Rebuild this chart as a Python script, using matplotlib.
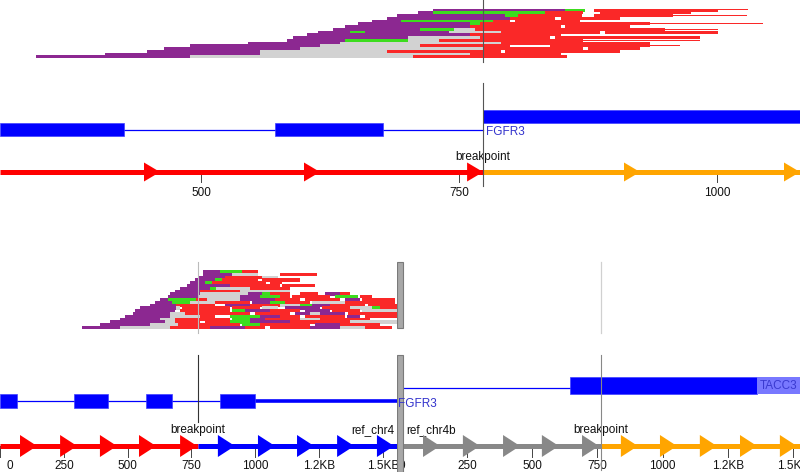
import matplotlib.pyplot as plt
from matplotlib.patches import Polygon, Rectangle

plt.rcParams["font.family"] = ["Liberation Sans", "DejaVu Sans"]

W, H = 800, 472

READ_COLORS = {"P": "#8c2891", "G": "#3cdc1e", "R": "#fa2828", "S": "#d2d2d2", "r": "#fa2828"}
BLUE = "#0000ff"
LABEL_BLUE = "#3333cc"

# ---------------- top panel (single reference) ----------------
top_xlim = (305, 1080)
top_breakpoint = 773
top_reads = [
    [(724, 852, "P"), (852, 872, "G"), (880, 1001, "R"), (1001, 1030, "r")],
    [(710, 724, "P"), (724, 833, "G"), (833, 870, "R"), (886, 974, "R")],
    [(690, 794, "P"), (794, 807, "G"), (807, 869, "R"), (880, 957, "R"), (957, 1029, "r")],
    [(680, 799, "P"), (799, 843, "R"), (848, 906, "R")],
    [(665, 693, "P"), (693, 783, "G"), (783, 799, "R"), (804, 867, "R")],
    [(652, 760, "P"), (760, 770, "G"), (770, 935, "R"), (935, 1044, "r")],
    [(639, 760, "P"), (760, 848, "R"), (852, 915, "R")],
    [(628, 712, "P"), (712, 745, "G"), (745, 765, "S"), (765, 949, "R"), (949, 1001, "r")],
    [(613, 644, "P"), (644, 659, "G"), (659, 740, "P"), (740, 790, "S"), (790, 886, "R"), (891, 1001, "R")],
    [(602, 760, "P"), (760, 848, "R")],
    [(589, 700, "P"), (700, 770, "S"), (770, 838, "R"), (843, 983, "R")],
    [(583, 639, "P"), (639, 700, "G"), (700, 730, "S"), (730, 870, "R"), (870, 983, "r")],
    [(545, 634, "P"), (634, 790, "S"), (790, 935, "R")],
    [(489, 615, "P"), (615, 712, "S"), (712, 799, "R"), (838, 935, "R"), (935, 964, "r")],
    [(464, 596, "P"), (596, 773, "S"), (773, 870, "R"), (875, 925, "R")],
    [(447, 557, "P"), (557, 680, "S"), (680, 790, "R"), (794, 906, "R")],
    [(407, 557, "P"), (557, 760, "S"), (760, 848, "R")],
    [(340, 489, "P"), (489, 705, "S"), (705, 854, "R")],
]
top_exons = [(305, 425), (571, 676)]
top_intron = (425, 773)
top_fused_exon = (773, 1080)
top_red_tips = [460, 615, 773]
top_orange_tips = [925, 1080]
top_ticks = [500, 750, 1000]
top_tick_labels = ["500", "750", "1000"]

# ---------------- bottom panel (fusion reference) ----------------
left_xlim = (0, 1555)
right_xlim = (-19, 1527)
left_breakpoint = 776
right_breakpoint = 763
left_reads = [
    [(795, 862, "P"), (862, 948, "G"), (948, 1011, "R")],
    [(795, 909, "P"), (909, 1011, "S"), (1097, 1242, "R")],
    [(776, 881, "P"), (881, 1026, "R"), (1026, 1089, "S")],
    [(764, 842, "P"), (842, 870, "G"), (870, 1011, "R"), (1026, 1175, "R")],
    [(744, 803, "P"), (803, 830, "G"), (830, 1042, "R"), (1058, 1105, "R")],
    [(732, 901, "P"), (901, 1097, "R"), (1105, 1234, "R")],
    [(705, 823, "P"), (823, 846, "G"), (846, 979, "S"), (979, 1136, "R")],
    [(685, 783, "P"), (783, 940, "R"), (940, 1136, "S")],
    [(666, 783, "P"), (783, 971, "S"), (971, 1026, "P"), (1026, 1058, "G"), (1058, 1136, "R"),
     (1175, 1246, "R"), (1273, 1332, "P"), (1332, 1371, "R")],
    [(658, 776, "P"), (776, 940, "S"), (940, 1018, "P"), (1018, 1097, "G"), (1097, 1136, "R"),
     (1144, 1293, "R"), (1312, 1402, "G"), (1410, 1457, "R")],
    [(627, 658, "P"), (658, 768, "G"), (768, 811, "R"), (811, 940, "S"), (940, 1077, "P"),
     (1077, 1175, "R"), (1195, 1332, "R"), (1351, 1410, "P"), (1418, 1547, "R")],
    [(607, 674, "P"), (674, 744, "G"), (744, 842, "S"), (842, 979, "R"), (987, 1058, "P"),
     (1058, 1116, "G"), (1116, 1214, "R"), (1222, 1351, "S"), (1351, 1547, "R")],
    [(588, 689, "P"), (689, 842, "R"), (881, 979, "P"), (979, 1097, "R"), (1097, 1175, "S"),
     (1175, 1222, "G"), (1222, 1293, "P"), (1293, 1430, "R"), (1441, 1555, "R")],
    [(548, 689, "P"), (689, 705, "S"), (713, 901, "R"), (909, 1018, "R"), (1026, 1089, "S"),
     (1116, 1253, "P"), (1261, 1371, "R"), (1371, 1457, "S"), (1457, 1488, "G"), (1488, 1555, "R")],
    [(529, 685, "P"), (705, 901, "R"), (909, 960, "G"), (960, 1058, "P"), (1058, 1175, "R"),
     (1195, 1293, "P"), (1300, 1410, "R"), (1418, 1555, "S")],
    [(521, 666, "P"), (666, 725, "S"), (725, 979, "R"), (999, 1136, "R"), (1156, 1214, "P"),
     (1214, 1253, "S"), (1253, 1351, "P"), (1363, 1555, "R")],
    [(490, 666, "P"), (666, 783, "S"), (783, 842, "R"), (901, 1018, "G"), (1018, 1097, "P"),
     (1097, 1175, "R"), (1195, 1351, "R"), (1359, 1410, "P"), (1430, 1555, "R")],
    [(470, 627, "P"), (627, 685, "S"), (685, 901, "R"), (909, 979, "G"), (979, 1038, "P"),
     (1038, 1175, "R"), (1175, 1253, "S"), (1253, 1449, "R")],
    [(431, 646, "P"), (646, 685, "S"), (685, 783, "R"), (803, 901, "R"), (901, 979, "G"),
     (979, 1136, "P"), (1136, 1371, "R"), (1371, 1555, "S")],
    [(392, 588, "P"), (588, 697, "S"), (697, 940, "R"), (948, 1018, "G"), (1018, 1214, "R"),
     (1234, 1332, "P"), (1332, 1488, "R")],
    [(321, 470, "P"), (470, 666, "S"), (666, 823, "R"), (823, 960, "P"), (960, 1038, "R"),
     (1058, 1214, "R"), (1214, 1332, "P"), (1332, 1430, "S"), (1430, 1535, "R")],
]
left_exons = [(0, 67), (290, 423), (572, 674), (862, 999)]
left_intron = (67, 862)
left_utr = (999, 1555)
right_intron = (4, 644)
right_exon = (644, 1362)
right_tacc3 = (1362, 1527)
left_red_tips = [145, 302, 458, 611, 772]
left_blue_tips = [920, 1077, 1230, 1387, 1543]
right_gray_tips = [146, 299, 453, 602, 756]
right_orange_tips = [905, 1055, 1208, 1362, 1515]
bottom_ticks = [0, 250, 500, 750, 1000, 1250, 1500]
bottom_tick_labels = ["0", "250", "500", "750", "1000", "1.2KB", "1.5KB"]

fig = plt.figure(figsize=(W / 100, H / 100), dpi=100)


def make_axes(left_px, right_px, top_px, bottom_px, xlim):
    ax = fig.add_axes([left_px / W, 1 - bottom_px / H,
                       (right_px - left_px) / W, (bottom_px - top_px) / H])
    ax.set_xlim(*xlim)
    ax.set_ylim(bottom_px, top_px)
    ax.axis("off")
    ax.px_w = right_px - left_px
    return ax


def units(ax, px):
    x0, x1 = ax.get_xlim()
    return px * (x1 - x0) / ax.px_w


def draw_reads(ax, rows, y0, pitch):
    # reads touch each other, so the pile looks solid like in the original
    h = pitch + 0.35
    for k, row in enumerate(rows):
        y = y0 + k * pitch
        for start, end, c in row:
            if c == "r":
                ax.broken_barh([(start, end - start)], (y + pitch * 0.3, pitch * 0.4),
                               facecolor=READ_COLORS[c], edgecolor="none", zorder=2)
            else:
                ax.broken_barh([(start, end - start)], (y, h),
                               facecolor=READ_COLORS[c], edgecolor="none", zorder=2)


def draw_arrow_track(ax, y, segments, tips, head_px, half):
    hl = units(ax, head_px)
    for s, e, c in segments:
        ax.plot([s, e], [y, y], color=c, lw=3.6, solid_capstyle="butt", zorder=3)
    for tip_list, c in tips:
        for t in tip_list:
            ax.add_patch(Polygon([(t - hl, y - half), (t, y), (t - hl, y + half)],
                                 closed=True, facecolor=c, edgecolor="none", zorder=4))


def draw_ticks(ax, y, positions, labels, tick_len, label_gap, first_shift=False):
    x0 = ax.get_xlim()[0]
    for i, (p, lab) in enumerate(zip(positions, labels)):
        ax.plot([p, p], [y, y + tick_len], color="#444444", lw=0.7, zorder=2)
        lx = p
        if first_shift and i == 0:
            lx = max(p, x0 + units(ax, 10))
        ax.text(lx, y + label_gap, lab, ha="center", va="center", fontsize=8.5, color="#111111")


# ---------------- top ----------------
ax_top = make_axes(0, 800, 0, 236, top_xlim)
draw_reads(ax_top, top_reads, 8.5, 2.75)
ax_top.plot([top_breakpoint] * 2, [0, 62], color="#555555", lw=0.8, zorder=5)
ax_top.plot([top_breakpoint] * 2, [83, 186], color="#555555", lw=0.8, zorder=5)

for s, e in top_exons:
    ax_top.add_patch(Rectangle((s, 123), e - s, 13, facecolor=BLUE, edgecolor="#4040ff", lw=0.5, zorder=3))
ax_top.plot(top_intron, [129.5, 129.5], color=BLUE, lw=0.9, zorder=2)
ax_top.add_patch(Rectangle((top_fused_exon[0], 110), top_fused_exon[1] - top_fused_exon[0], 13,
                           facecolor=BLUE, edgecolor="#4040ff", lw=0.5, zorder=3))
ax_top.text(top_breakpoint + units(ax_top, 3), 132, "FGFR3", ha="left", va="center",
            fontsize=8.5, color=LABEL_BLUE)

draw_arrow_track(ax_top, 172,
                 [(top_xlim[0], top_breakpoint, "#ff0000"), (top_breakpoint, top_xlim[1], "#ffa500")],
                 [(top_red_tips, "#ff0000"), (top_orange_tips, "#ffa500")], 16, 9.5)
ax_top.text(top_breakpoint, 157, "breakpoint", ha="center", va="center", fontsize=8.5, color="#111111")
draw_ticks(ax_top, 172, top_ticks, top_tick_labels, 10, 21)

# ---------------- bottom left ----------------
ax_bl = make_axes(0, 397, 236, 472, left_xlim)
draw_reads(ax_bl, left_reads, 270, 2.8)
ax_bl.plot([left_breakpoint] * 2, [262, 333], color="#bbbbbb", lw=0.8, zorder=5)
ax_bl.plot([left_breakpoint] * 2, [355, 422], color="#333333", lw=0.8, zorder=5)

for s, e in left_exons:
    ax_bl.add_patch(Rectangle((s, 394), e - s, 14, facecolor=BLUE, edgecolor="#4040ff", lw=0.5, zorder=3))
ax_bl.plot(left_intron, [401, 401], color=BLUE, lw=0.9, zorder=2)
ax_bl.plot(left_utr, [401, 401], color=BLUE, lw=2.6, solid_capstyle="butt", zorder=2)

draw_arrow_track(ax_bl, 446,
                 [(left_xlim[0], left_breakpoint, "#ff0000"), (left_breakpoint, left_xlim[1], "#0000ff")],
                 [(left_red_tips, "#ff0000"), (left_blue_tips, "#0000ff")], 17, 11)
ax_bl.text(left_breakpoint, 430, "breakpoint", ha="center", va="center", fontsize=8.5, color="#111111")
ax_bl.text(left_xlim[1] - units(ax_bl, 3), 430, "ref_chr4", ha="right", va="center",
           fontsize=8.5, color="#111111")
draw_ticks(ax_bl, 446, bottom_ticks, bottom_tick_labels, 11, 20, first_shift=True)

# ---------------- bottom right ----------------
ax_br = make_axes(397, 800, 236, 472, right_xlim)
ax_br.plot([right_breakpoint] * 2, [262, 333], color="#d0d0d0", lw=0.9, zorder=5)
ax_br.plot([right_breakpoint] * 2, [355, 470], color="#888888", lw=0.8, zorder=5)

bar_w = units(ax_br, 6)
for y0, y1 in [(262, 328), (355, 472)]:
    ax_br.add_patch(Rectangle((right_xlim[0], y0), bar_w, y1 - y0, facecolor="#a8a8a8",
                              edgecolor="#7a7a7a", lw=0.8, zorder=6))

ax_br.plot(right_intron, [387.5, 387.5], color=BLUE, lw=0.9, zorder=2)
ax_br.add_patch(Rectangle((right_exon[0], 377), right_exon[1] - right_exon[0], 17,
                          facecolor=BLUE, edgecolor="#4040ff", lw=0.5, zorder=3))
ax_br.add_patch(Rectangle((right_tacc3[0], 377), right_tacc3[1] - right_tacc3[0], 17,
                          facecolor="#7878ff", edgecolor="none", zorder=3))
ax_br.text(right_tacc3[0] + units(ax_br, 3), 386, "TACC3", ha="left", va="center",
           fontsize=8.5, color="#3a3ad0", zorder=4)
ax_br.text(right_xlim[0] + units(ax_br, 1), 404, "FGFR3", ha="left", va="center",
           fontsize=8.5, color=LABEL_BLUE, zorder=7)

draw_arrow_track(ax_br, 446,
                 [(right_intron[0], right_breakpoint, "#888888"), (right_breakpoint, right_xlim[1], "#ffa500")],
                 [(right_gray_tips, "#888888"), (right_orange_tips, "#ffa500")], 17, 11)
ax_br.text(right_breakpoint, 430, "breakpoint", ha="center", va="center", fontsize=8.5, color="#111111")
ax_br.text(right_intron[0] + units(ax_br, 3), 430, "ref_chr4b", ha="left", va="center",
           fontsize=8.5, color="#111111")
draw_ticks(ax_br, 446, bottom_ticks, bottom_tick_labels, 11, 20)

fig.savefig("out.png", dpi=100)
plt.close(fig)
